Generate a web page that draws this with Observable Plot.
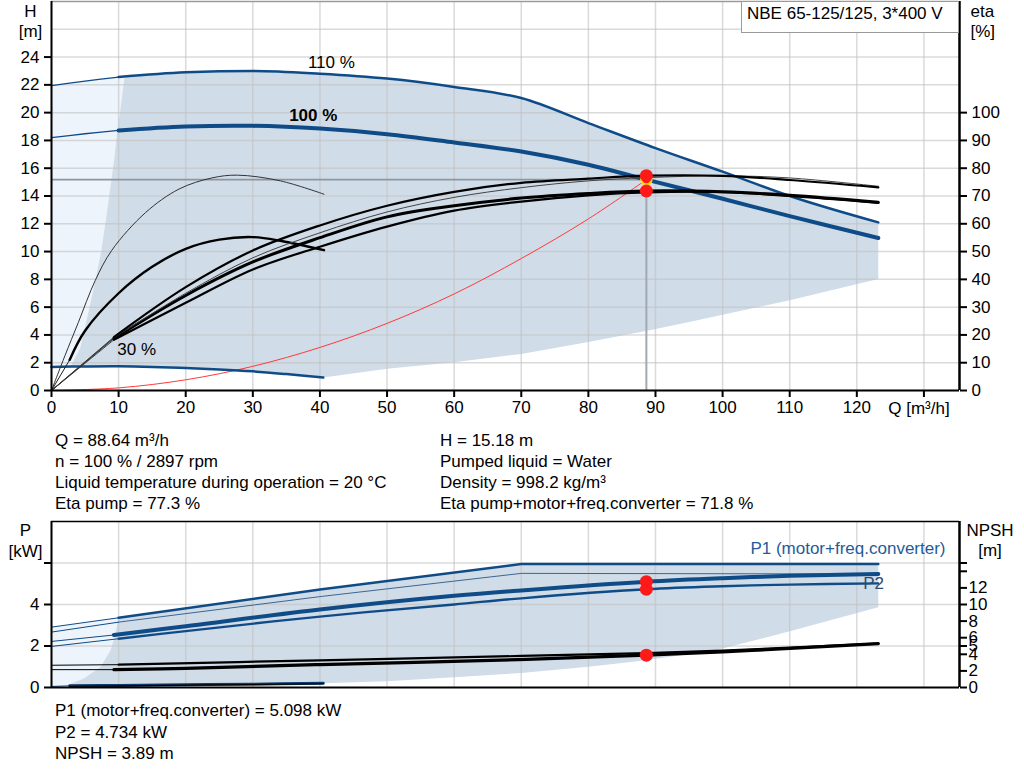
<!DOCTYPE html>
<html><head><meta charset="utf-8">
<script src="https://cdn.jsdelivr.net/npm/d3@7"></script>
<script src="https://cdn.jsdelivr.net/npm/@observablehq/plot@0.6"></script>
<style>
body{margin:0;background:#fff;font-family:"Liberation Sans",Arial,sans-serif;}
#page{position:relative;width:1024px;height:781px;overflow:hidden;background:#fff;}
.abs{position:absolute;}
.info{font-size:17px;line-height:21px;color:#000;white-space:nowrap;}
#legend{left:741px;top:1px;width:218px;height:32px;box-sizing:border-box;border:1px solid #9a9a9a;background:#fff;font-size:17px;line-height:24px;padding-left:5px;white-space:nowrap;}
</style></head><body><div id="page">
<div id="top" class="abs" style="left:0;top:0"></div>
<div id="bot" class="abs" style="left:0;top:515px"></div>
<div id="legend" class="abs"></div>
<div id="infoL" class="abs info" style="left:55px;top:430px"></div>
<div id="infoR" class="abs info" style="left:440px;top:430px"></div>
<div id="infoB" class="abs info" style="left:55px;top:700px;line-height:21.5px"></div>
</div>
<script>
// ---------- texts ----------
const legendText = "NBE 65-125/125, 3*400 V";
const infoLeft = ["Q = 88.64 m³/h","n = 100 % / 2897 rpm","Liquid temperature during operation = 20 °C","Eta pump = 77.3 %"];
const infoRight = ["H = 15.18 m","Pumped liquid = Water","Density = 998.2 kg/m³","Eta pump+motor+freq.converter = 71.8 %"];
const infoBottom = ["P1 (motor+freq.converter) = 5.098 kW","P2 = 4.734 kW","NPSH = 3.89 m"];
const qAxisTitle = "Q [m³/h]";

// ---------- scales / ticks ----------
const Q_MAX = 135.3, H_MAX = 28, P_MAX = 8;
const ETA_PER_M = 5, NPSH_PER_KW = 2.5;
const qTicks = [0,10,20,30,40,50,60,70,80,90,100,110,120,130];
const hTicks = [0,2,4,6,8,10,12,14,16,18,20,22,24];
const hGrid = [0,2,4,6,8,10,12,14,16,18,20,22,24,26];
const etaTicks = [0,10,20,30,40,50,60,70,80,90,100];
const pTicks = [0,2,4,6];
const npshTicks = [0,2,4,5,6,8,10,12,14,15];

// ---------- operating point ----------
const opQ = 88.64, opH = 15.18, opEtaPump = 77.3, opEtaTot = 71.8;
const opP1 = 5.098, opP2 = 4.734, opNPSH = 3.89;

// ---------- H curves (m) ----------
const q110 = [0,5,10,20,30,40,50,60,70,80,90,100,110,123.2];
const h110 = [21.95,22.27,22.56,22.9,23.0,22.8,22.45,21.85,21.05,19.25,17.45,15.75,14.0,12.1];
const q100 = [0,5,10,20,30,40,50,60,70,80,88.64,100,110,123.2];
const h100 = [18.2,18.48,18.72,19.0,19.05,18.85,18.45,17.85,17.2,16.25,15.18,13.8,12.55,10.98];
const q30 = [0,5,10,15,20,25,30,35,40.5];
const h30 = [1.7,1.73,1.74,1.7,1.62,1.52,1.38,1.18,0.93];
const qSys = [0,10,20,30,40,50,60,70,80,88.64];
const hSys = [0,0.19,0.77,1.74,3.1,4.83,6.95,9.5,12.35,15.18];

// ---------- eta curves (%) ----------
const etaOrigin = [0,0];
const qEta = [9.3,20,30,40,50,60,70,80,88.64,100,110,123.2];
const etaPump100 = [19.25,37.2,50.4,59.4,66.5,71.5,74.75,76.25,77.3,77.25,75.75,73.1];
const etaPump110 = [19,35,47.75,56.75,64.25,69.5,73,75.45,76.6,77.25,76.5,73.5];
const etaTot100  = [18.75,34.2,46.25,55,62.5,66.5,69.25,70.9,71.8,71.5,70.25,67.75];
const etaTot110  = [18.25,31.55,43.55,51.75,59,64.75,68,70.25,71.3,71.4,70,67.5];
const qEta30p = [0,2,4,6.5,9,14,19,23.9,27.7,34.1,40.6];
const etaPump30 = [0,12.5,24.5,39.5,50.5,64,72.5,76.5,77.5,75.45,70.65];
const qEta30t = [2.7,5,10,15,20,25,30,34.1,40.6];
const etaTot30 = [11,21.5,35,44.5,51,54.3,55.2,53.9,50.5];

// ---------- top regions ----------
const darkLeftQ = [2.8,4.3,6.1,7.4,8.3,9.3,9.8,10.2,10.9];
const darkLeftH = [1.7,3.1,6.95,10.0,13.0,16.5,18.7,20.0,22.6];
const lowEdgeQ = [40.5,50,60,70,80,89.3,95.2,110,123.2];
const lowEdgeH = [0.93,1.56,2.04,2.63,3.5,4.35,4.95,6.5,8.02];

// ---------- power (kW) and NPSH (m) ----------
const qP1_110 = [0,10,40,70,123.2];          const p1_110 = [2.91,3.36,4.72,5.95,5.95];
const qP2_110 = [0,10,40,70,123.2];          const p2_110 = [2.67,3.15,4.38,5.5,5.47];
const qP1_100 = [0,9.3,20,40,60,70,88.64,100,110,123.2]; const p1_100 = [2.22,2.53,2.95,3.76,4.42,4.68,5.098,5.27,5.38,5.47];
const qP2_100 = [0,10,20,40,60,70,88.64,100,110,123.2];  const p2_100 = [1.98,2.35,2.72,3.42,4.0,4.3,4.734,4.88,4.96,5.02];
const qN100 = [0,9.3,20,40,66.9,88.64,100,110,123.2];    const npsh100 = [2.15,2.15,2.3,2.76,3.3,3.89,4.3,4.7,5.28];
const qN110 = [0,10,40,70,88.64,100,110,123.2];          const npsh110 = [2.68,2.75,3.28,3.8,4.15,4.45,4.8,5.3];
const qP30 = [0,2.7,10,20,30,40.5];          const p1_30 = [0.05,0.08,0.1,0.13,0.16,0.2];
const qN30 = [0,2.7,10,20,30,40.5];          const npsh30 = [0.1,0.15,0.2,0.28,0.36,0.45];
const bDarkLeftQ = [2.3,4.8,7.3,8.8,9.5,9.8,10];
const bDarkLeftP = [0.11,0.43,0.99,1.79,2.56,3.1,3.36];
const bLowQ = [40.5,50,60,70,80,88.6,98.9,109.6,123.2];
const bLowP = [0.2,0.3,0.5,0.7,1.0,1.31,1.79,2.67,3.87];
const bFootQ = [2.3,0]; const bFootP = [0,0];

// ---------- labels ----------
const curveLabels = [
  {text:"110 %", q:41.7, h:23.6},
  {text:"30 %",  q:12.7, h:2.95}
];
const boldLabels = [{text:"100 %", q:39.0, h:19.8}];
const p2Label = {text:"P2", q:122.5, p:5.02};
const p1Label = "P1 (motor+freq.converter)";

// ---------- helpers ----------
const pts = (xs, ys) => xs.map((x,i)=>[x, ys[i]]);
const X = d => d[0], Y = d => d[1];
const YE = d => d[1] / ETA_PER_M;
const YN = d => d[1] / NPSH_PER_KW;
const BLUE = "#0f4c87";
const FONT = "'Liberation Sans', Arial, sans-serif";

const h110pts = pts(q110,h110), h30pts = pts(q30,h30);
const darkLeft = pts(darkLeftQ, darkLeftH);
const darkRing = [
  ...darkLeft,
  ...h110pts.filter(d=>d[0] > darkLeftQ[darkLeftQ.length-1]),
  ...pts(lowEdgeQ, lowEdgeH).reverse(),
  ...h30pts.filter(d=>d[0] > darkLeftQ[0] && d[0] < lowEdgeQ[0]).reverse()
];
const lightRing = [
  ...h110pts.filter(d=>d[0] <= 10),
  ...darkLeft.slice().reverse(),
  ...h30pts.filter(d=>d[0] < darkLeftQ[0]).reverse()
];

const p1_110pts = pts(qP1_110, p1_110);
const bDarkLeft = pts(bDarkLeftQ, bDarkLeftP);
const bDarkRing = [
  ...bDarkLeft,
  ...p1_110pts.filter(d=>d[0] > bDarkLeftQ[bDarkLeftQ.length-1]),
  ...pts(bLowQ, bLowP).reverse(),
  ...pts(qP30, p1_30).filter(d=>d[0] >= 2.7 && d[0] < bLowQ[0]).reverse()
];
const bLightRing = [
  ...p1_110pts.filter(d=>d[0] <= 10),
  ...bDarkLeft.slice().reverse(),
  ...pts(bFootQ, bFootP)
];

const line = (data, o) => Plot.line(data, {x:X, y:Y, curve:"catmull-rom", strokeLinecap:"round", ...o});
const ext = (xs, ys, cut) => pts(xs,ys).filter(d=>d[0] <= cut);
const main = (xs, ys, cut) => pts(xs,ys).filter(d=>d[0] >= cut);

const gridStyle = {stroke:"#c2c2c2", strokeOpacity:0.6, strokeWidth:1.5};

// ---------- top plot ----------
const etaCurves = [
  {e:etaTot110, w:2.2, c:"#000"},
  {e:etaTot100, w:3, c:"#000"},
  {e:etaPump110, w:1, c:"#444"},
  {e:etaPump100, w:2.2, c:"#000"}
];
const topMarks = [
  Plot.line(lightRing, {x:X, y:Y, fill:"#edf4fb", stroke:"none"}),
  Plot.line(darkRing, {x:X, y:Y, fill:"#d0dce8", stroke:"none"}),
  Plot.gridX(qTicks, gridStyle),
  Plot.gridY(hGrid, gridStyle),
  line(pts(qSys,hSys), {stroke:"#ff3a3a", strokeWidth:1}),
  Plot.ruleY([opH], {x1:0, x2:opQ, stroke:"#8e969e", strokeWidth:1.8}),
  Plot.ruleX([opQ], {y1:0, y2:opH, stroke:"#a2a9b0", strokeWidth:2}),
  line(h30pts, {stroke:BLUE, strokeWidth:2.5}),
  line(ext(q110,h110,10), {stroke:BLUE, strokeWidth:1.3}),
  line(main(q110,h110,10), {stroke:BLUE, strokeWidth:2.5, curve:"monotone-x"}),
  line(ext(q100,h100,10), {stroke:BLUE, strokeWidth:1.3}),
  line(main(q100,h100,10), {stroke:BLUE, strokeWidth:4}),
  line(pts(qEta30p, etaPump30), {y:YE, stroke:"#333", strokeWidth:1}),
  line([etaOrigin, [qEta30t[0], etaTot30[0]]], {y:YE, stroke:"#222", strokeWidth:1, curve:"linear"}),
  line(pts(qEta30t, etaTot30), {y:YE, stroke:"#000", strokeWidth:2.4}),
  ...etaCurves.map(c => line([etaOrigin, [qEta[0], c.e[0]]], {y:YE, stroke:"#333", strokeWidth:0.9, curve:"linear"})),
  ...etaCurves.map(c => line(pts(qEta, c.e), {y:YE, stroke:c.c, strokeWidth:c.w})),
  Plot.dot([[opQ, opH]], {x:X, y:Y, r:5, fill:"#ff1a1a", stroke:"#ffe100", strokeWidth:2.5}),
  Plot.dot([[opQ, opEtaTot]], {x:X, y:YE, r:6.5, fill:"#ff1a1a"}),
  Plot.dot([[opQ, opEtaPump]], {x:X, y:YE, r:6.5, fill:"#ff1a1a"}),
  Plot.ruleY([H_MAX], {stroke:"#9a9a9a", strokeWidth:1.5}),
  Plot.ruleX([0], {stroke:"#000", strokeWidth:2}),
  Plot.ruleX([Q_MAX], {stroke:"#000", strokeWidth:2.5}),
  Plot.ruleY([0], {stroke:"#000", strokeWidth:2}),
  Plot.axisY(hTicks, {anchor:"left", tickSize:7, tickPadding:5, strokeWidth:2, label:null, fontSize:17}),
  Plot.axisY(etaTicks.map(e=>e/ETA_PER_M), {anchor:"right", tickSize:7, tickPadding:5, strokeWidth:2, label:null, fontSize:17, tickFormat: h => Math.round(h*ETA_PER_M)}),
  Plot.axisX(qTicks, {anchor:"bottom", tickSize:7, tickPadding:3, strokeWidth:2, label:null, fontSize:17, tickFormat: q => q > 120 ? "" : q}),
  Plot.text([qTicks[qTicks.length-1]], {x:d=>d, text:()=>qAxisTitle, frameAnchor:"bottom", dy:18, dx:-5, lineAnchor:"middle", fontSize:17}),
  Plot.text(["H\n[m]"], {text:d=>d, frameAnchor:"top-left", dx:-21, dy:19, textAnchor:"middle", lineAnchor:"middle", lineHeight:1.18, fontSize:17}),
  Plot.text(["eta\n[%]"], {text:d=>d, frameAnchor:"top-right", dx:11, dy:19, textAnchor:"start", lineAnchor:"middle", lineHeight:1.18, fontSize:17}),
  Plot.text(curveLabels, {x:"q", y:"h", text:"text", fontSize:17, lineAnchor:"middle", fill:"#000"}),
  Plot.text(boldLabels, {x:"q", y:"h", text:"text", fontSize:17, lineAnchor:"middle", fontWeight:"bold", fill:"#000"})
];
const topPlot = Plot.plot({
  width:1024, height:420, marginLeft:51, marginRight:65, marginTop:1, marginBottom:30,
  style:{fontFamily:FONT, fontSize:"17px", color:"#000", background:"transparent", overflow:"visible"},
  x:{domain:[0,Q_MAX]}, y:{domain:[0,H_MAX]},
  marks: topMarks
});
document.getElementById("top").append(topPlot);

// ---------- bottom plot ----------
const botMarks = [
  Plot.line(bLightRing, {x:X, y:Y, fill:"#edf4fb", stroke:"none"}),
  Plot.line(bDarkRing, {x:X, y:Y, fill:"#d0dce8", stroke:"none"}),
  Plot.gridX(qTicks, gridStyle),
  Plot.gridY(pTicks.slice(1), gridStyle),
  Plot.line(ext(qP1_110,p1_110,10), {x:X, y:Y, stroke:BLUE, strokeWidth:1}),
  Plot.line(main(qP1_110,p1_110,10), {x:X, y:Y, stroke:BLUE, strokeWidth:2.5}),
  Plot.line(ext(qP2_110,p2_110,10), {x:X, y:Y, stroke:BLUE, strokeWidth:1}),
  Plot.line(main(qP2_110,p2_110,10), {x:X, y:Y, stroke:"#3d6592", strokeWidth:1}),
  line(ext(qP1_100,p1_100,9.3), {stroke:BLUE, strokeWidth:1, curve:"linear"}),
  line(main(qP1_100,p1_100,9.3), {stroke:BLUE, strokeWidth:4}),
  line(ext(qP2_100,p2_100,10), {stroke:BLUE, strokeWidth:1, curve:"linear"}),
  line(main(qP2_100,p2_100,10), {stroke:BLUE, strokeWidth:2.3}),
  line(ext(qN110,npsh110,10), {y:YN, stroke:"#000", strokeWidth:1, curve:"linear"}),
  line(main(qN110,npsh110,10), {y:YN, stroke:"#000", strokeWidth:2.2}),
  line(ext(qN100,npsh100,9.3), {y:YN, stroke:"#000", strokeWidth:1, curve:"linear"}),
  line(main(qN100,npsh100,9.3), {y:YN, stroke:"#000", strokeWidth:3.2}),
  line(ext(qP30,p1_30,2.7), {stroke:BLUE, strokeWidth:1, curve:"linear"}),
  line(main(qP30,p1_30,2.7), {stroke:"#0d3d6e", strokeWidth:3}),
  line(main(qN30,npsh30,2.7), {y:YN, stroke:"#000", strokeWidth:1.2}),
  Plot.dot([[opQ, opP2]], {x:X, y:Y, r:6.5, fill:"#ff1a1a"}),
  Plot.dot([[opQ, opP1]], {x:X, y:Y, r:6.5, fill:"#ff1a1a"}),
  Plot.dot([[opQ, opNPSH]], {x:X, y:YN, r:6.5, fill:"#ff1a1a"}),
  Plot.ruleY([P_MAX], {stroke:"#000", strokeWidth:1.5}),
  Plot.ruleX([0], {stroke:"#000", strokeWidth:2}),
  Plot.ruleX([Q_MAX], {stroke:"#000", strokeWidth:2.5}),
  Plot.ruleY([0], {stroke:"#000", strokeWidth:2}),
  Plot.axisY(pTicks, {anchor:"left", tickSize:7, tickPadding:5, strokeWidth:2, label:null, fontSize:17, tickFormat: p => p === 6 ? "" : p}),
  Plot.axisY(npshTicks.map(n=>n/NPSH_PER_KW), {anchor:"right", tickSize:7, tickPadding:2, strokeWidth:2, label:null, fontSize:17, tickFormat: p => { const n = Math.round(p*NPSH_PER_KW); return n > 12 ? "" : n; }}),
  Plot.text(["P\n[kW]"], {text:d=>d, frameAnchor:"top-left", dx:-26, dy:18.5, textAnchor:"middle", lineAnchor:"middle", lineHeight:1.24, fontSize:17}),
  Plot.text(["NPSH\n[m]"], {text:d=>d, frameAnchor:"top-right", dx:30.5, dy:18.5, textAnchor:"middle", lineAnchor:"middle", lineHeight:1.15, fontSize:17}),
  Plot.text([p1Label], {text:d=>d, frameAnchor:"top-right", dx:-14, dy:27, textAnchor:"end", lineAnchor:"middle", fontSize:17, fill:"#1f5c99"}),
  Plot.text([p2Label], {x:"q", y:"p", text:"text", fontSize:17, lineAnchor:"middle", fill:"#2b4c70"})
];
const botPlot = Plot.plot({
  width:1024, height:177, marginLeft:51, marginRight:65, marginTop:6, marginBottom:5,
  style:{fontFamily:FONT, fontSize:"17px", color:"#000", background:"transparent", overflow:"visible"},
  x:{domain:[0,Q_MAX], axis:null}, y:{domain:[0,P_MAX]},
  marks: botMarks
});
document.getElementById("bot").append(botPlot);

// ---------- html texts ----------
document.getElementById("legend").textContent = legendText;
document.getElementById("infoL").innerHTML = infoLeft.map(t=>`<div>${t}</div>`).join("");
document.getElementById("infoR").innerHTML = infoRight.map(t=>`<div>${t}</div>`).join("");
document.getElementById("infoB").innerHTML = infoBottom.map(t=>`<div>${t}</div>`).join("");
</script>
</body></html>
